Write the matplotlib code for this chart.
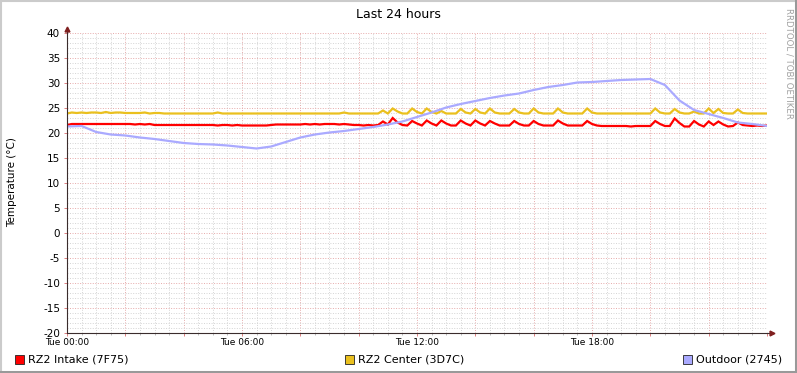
"""RRDtool-style 24h temperature graph (RZ2 intake / center / outdoor)."""
import matplotlib
matplotlib.use("Agg")
import matplotlib.pyplot as plt
import matplotlib.ticker as ticker
from matplotlib.patches import Rectangle
from matplotlib.lines import Line2D
import numpy as np

W, H = 797, 373

# ── data ─────────────────────────────────────────────────────────────────
# intake + center sampled every 10 minutes, one row per hour
step_hours = np.arange(145) / 6.0

intake = [
  21.6, 21.8, 21.8, 21.8, 21.8, 21.8,
  21.8, 21.8, 21.8, 21.8, 21.8, 21.8,
  21.8, 21.8, 21.7, 21.8, 21.7, 21.8,
  21.6, 21.6, 21.6, 21.6, 21.6, 21.6,
  21.6, 21.6, 21.6, 21.6, 21.6, 21.6,
  21.6, 21.5, 21.6, 21.6, 21.5, 21.6,
  21.5, 21.5, 21.5, 21.5, 21.5, 21.5,
  21.6, 21.7, 21.7, 21.7, 21.7, 21.7,
  21.7, 21.8, 21.7, 21.8, 21.7, 21.8,
  21.8, 21.8, 21.7, 21.8, 21.7, 21.6,
  21.6, 21.5, 21.6, 21.5, 21.6, 22.3,
  21.7, 23.0, 22.1, 21.6, 21.5, 22.4,
  21.9, 21.5, 22.5, 21.9, 21.5, 22.5,
  21.9, 21.5, 21.5, 22.5, 21.9, 21.5,
  22.5, 21.9, 21.5, 22.4, 21.9, 21.5,
  21.5, 21.5, 22.4, 21.8, 21.5, 21.5,
  22.4, 21.8, 21.5, 21.5, 21.5, 22.5,
  21.9, 21.5, 21.5, 21.5, 21.5, 22.4,
  21.8, 21.5, 21.4, 21.4, 21.4, 21.4,
  21.4, 21.4, 21.3, 21.4, 21.4, 21.4,
  21.4, 22.4, 21.8, 21.4, 21.4, 22.9,
  22.0, 21.3, 21.3, 22.4, 21.7, 21.3,
  22.3, 21.6, 22.3, 21.7, 21.3, 21.4,
  22.1, 21.6, 21.5, 21.4, 21.5, 21.4,
  21.5,
]

center = [
  23.9, 24.1, 24.0, 24.1, 24.0, 24.1,
  24.1, 24.0, 24.2, 24.0, 24.1, 24.1,
  24.0, 24.0, 24.0, 24.0, 24.1, 23.9,
  24.0, 24.0, 23.9, 23.9, 23.9, 23.9,
  23.9, 23.9, 23.9, 23.9, 23.9, 23.9,
  23.9, 24.1, 23.9, 23.9, 23.9, 23.9,
  23.9, 23.9, 23.9, 23.9, 23.9, 23.9,
  23.9, 23.9, 23.9, 23.9, 23.9, 23.9,
  23.9, 23.9, 23.9, 23.9, 23.9, 23.9,
  23.9, 23.9, 23.9, 24.1, 23.9, 23.9,
  23.9, 23.9, 23.9, 23.9, 23.9, 24.5,
  23.9, 24.9, 24.3, 23.9, 23.9, 24.9,
  24.2, 23.9, 24.9, 24.2, 23.9, 24.4,
  23.9, 23.9, 23.9, 24.8, 24.1, 23.9,
  24.8, 24.1, 23.9, 24.9, 24.1, 23.9,
  23.9, 23.9, 24.8, 24.1, 23.9, 23.9,
  24.9, 24.1, 23.9, 23.9, 23.9, 24.9,
  24.1, 23.9, 23.9, 23.9, 23.9, 24.9,
  24.1, 23.9, 23.9, 23.9, 23.9, 23.9,
  23.9, 23.9, 23.9, 23.9, 23.9, 23.9,
  23.9, 24.9, 24.1, 23.9, 23.9, 24.8,
  24.1, 23.9, 23.9, 24.3, 23.9, 23.9,
  24.9, 24.0, 24.8, 24.0, 23.9, 23.9,
  24.7, 24.0, 23.9, 23.9, 23.9, 23.9,
  23.9,
]

# outdoor sampled every 30 minutes
outdoor_hours = np.arange(49) / 2.0
outdoor = [
  21.3, 21.4, 20.2, 19.7, 19.5, 19.1, 18.8, 18.4, 18.0, 17.8,
  17.7, 17.5, 17.2, 16.9, 17.3, 18.2, 19.1, 19.7, 20.1, 20.4,
  20.8, 21.2, 21.7, 22.3, 23.2, 24.1, 25.1, 25.8, 26.4, 27.0,
  27.5, 27.9, 28.6, 29.2, 29.6, 30.1, 30.2, 30.4, 30.6, 30.7,
  30.8, 29.6, 26.5, 24.6, 23.8, 23.0, 22.1, 21.8, 21.4,
]

series = [
  ("RZ2 Intake (7F75)", intake, "#FF0000"),
  ("RZ2 Center (3D7C)", center, "#EAC01E"),
  ("Outdoor (2745)", outdoor, "#AAAAFF"),
]
tick_labels = {0: "Tue 00:00", 6: "Tue 06:00", 12: "Tue 12:00", 18: "Tue 18:00"}


def fx(px):
  return px / W


def fy(py):
  return 1 - py / H


fig = plt.figure(figsize=(W / 100, H / 100), dpi=100, facecolor="white")
ax = fig.add_axes([fx(67), fy(333), 700 / W, 300 / H])
ax.set_facecolor("white")

ax.set_xlim(0, 24)
ax.set_ylim(-20, 40)

ax.xaxis.set_major_locator(ticker.MultipleLocator(2))
ax.xaxis.set_minor_locator(ticker.MultipleLocator(0.5))
ax.yaxis.set_major_locator(ticker.MultipleLocator(5))
ax.yaxis.set_minor_locator(ticker.MultipleLocator(1))
ax.xaxis.set_major_formatter(
  ticker.FuncFormatter(lambda v, _: tick_labels.get(int(round(v)), "")
                       if abs(v - round(v)) < 1e-6 else ""))
ax.yaxis.set_major_formatter(ticker.FuncFormatter(lambda v, _: f"{v:.0f}"))

dots = (0, (1, 1.6))
ax.grid(which="minor", color="#D4D4D4", linestyle=dots, linewidth=0.7)
ax.grid(which="major", color="#E6AAAA", linestyle=dots, linewidth=0.7)
ax.set_axisbelow(True)

ax.tick_params(axis="x", which="major", length=2.5, width=0.7, color="#E08080",
               pad=1, labelsize=6.5)
ax.tick_params(axis="x", which="minor", length=1.5, width=0.7, color="#BBBBBB")
ax.tick_params(axis="y", which="major", length=2, width=0.7, color="#E08080",
               pad=3, labelsize=7.5)
ax.tick_params(axis="y", which="minor", length=0)

for side in ("top", "right"):
  ax.spines[side].set_visible(False)
for side in ("left", "bottom"):
  ax.spines[side].set_color("#3A2C2C")
  ax.spines[side].set_linewidth(0.8)

# arrows at the axis ends
ax.plot([1.0, 1.006], [0, 0], color="#3A2C2C", lw=0.8,
        transform=ax.transAxes, clip_on=False)
ax.plot([1.007], [0], marker=">", color="#7F1F1F", markersize=3.5,
        transform=ax.transAxes, clip_on=False)
ax.plot([0, 0], [1.0, 1.012], color="#3A2C2C", lw=0.8,
        transform=ax.transAxes, clip_on=False)
ax.plot([0], [1.015], marker="^", color="#7F1F1F", markersize=3.5,
        transform=ax.transAxes, clip_on=False)

ax.plot(step_hours, intake, color=series[0][2], lw=1.6, solid_joinstyle="miter")
ax.plot(step_hours, center, color=series[1][2], lw=1.6, solid_joinstyle="miter")
ax.plot(outdoor_hours, outdoor, color=series[2][2], lw=1.6, solid_joinstyle="miter")

fig.text(fx(398), fy(14), "Last 24 hours", ha="center", va="center", fontsize=9)
fig.text(fx(12), fy(182), "Temperature (°C)", ha="center", va="center",
         rotation=90, fontsize=7.5)
fig.text(fx(789), fy(63), "RRDTOOL / TOBI OETIKER", ha="center", va="center",
         rotation=270, fontsize=6.2, color="#A0A0A0")

# legend row
for (label, _, color), sx in zip(series, (15, 345, 683)):
  fig.add_artist(Rectangle((fx(sx), fy(364)), 9 / W, 9 / H,
                           facecolor=color, edgecolor="#222222", lw=0.6,
                           transform=fig.transFigure))
  fig.text(fx(sx + 13), fy(359.5), label, ha="left", va="center", fontsize=8)

# 3D frame around the image
fig.add_artist(Line2D([0, 1], [1 - 1 / H] * 2, color="#CBCBCB", lw=1.5,
                      transform=fig.transFigure))
fig.add_artist(Line2D([1 / W] * 2, [0, 1], color="#CBCBCB", lw=1.5,
                      transform=fig.transFigure))
fig.add_artist(Line2D([0, 1], [1.5 / H] * 2, color="#999999", lw=2.2,
                      transform=fig.transFigure))
fig.add_artist(Line2D([1 - 1.5 / W] * 2, [0, 1], color="#999999", lw=2.2,
                      transform=fig.transFigure))

fig.savefig("out.png", dpi=100, facecolor="white")
